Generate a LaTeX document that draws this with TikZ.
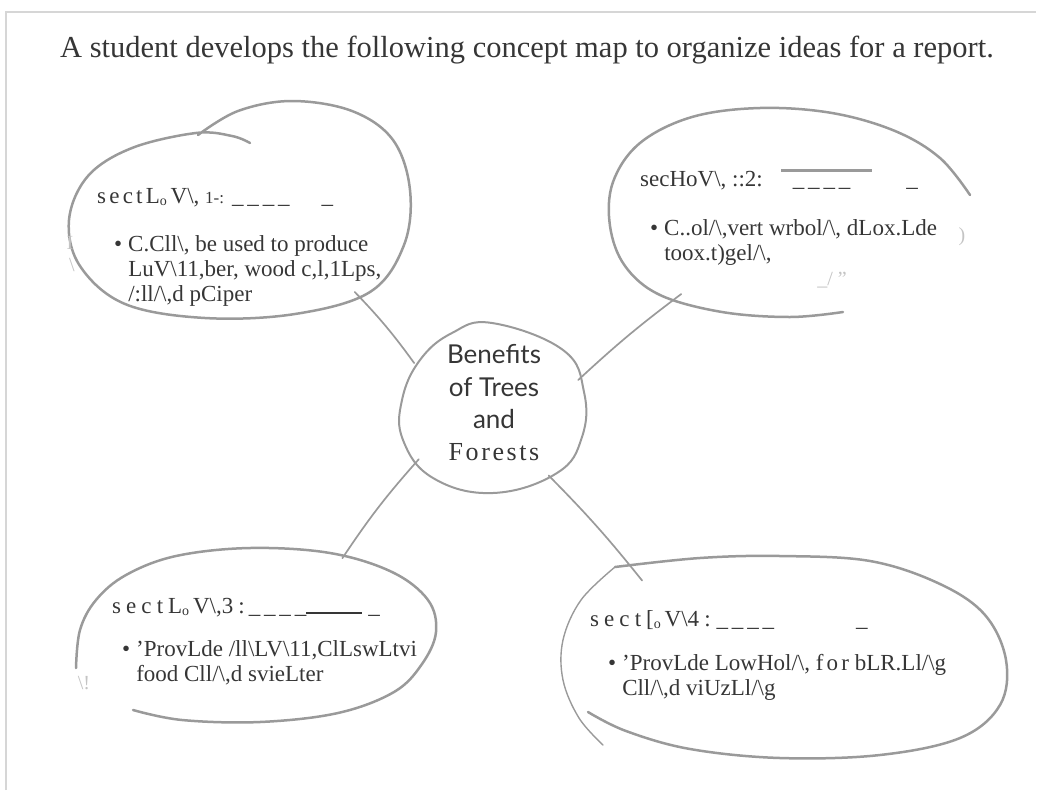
\documentclass[tikz,border=0pt]{standalone}
\usepackage{fontspec}
\setmainfont{Liberation Serif}
\newfontfamily\handfont{Lato}
\usepackage{tikz}
\usetikzlibrary{shapes.geometric, positioning}
\definecolor{ink}{HTML}{363636}
\definecolor{pencil}{HTML}{9A9A9A}
\definecolor{frameline}{HTML}{D6D6D6}
\definecolor{smudge}{HTML}{C4C4C4}
\newcommand{\bs}{\textbackslash}
\newcommand{\spaced}[2][14]{{\addfontfeature{LetterSpace=#1}#2}}
\newcommand{\tinyo}{\raisebox{-2pt}{\fontsize{14}{14}\selectfont o}}
\newcommand{\smallnum}[1]{{\fontsize{17}{17}\selectfont #1}}

\begin{document}
\begin{tikzpicture}[
    x=1pt, y=1pt,
    pen/.style={draw=pencil, line width=2.5pt, line cap=round},
    link/.style={draw=pencil, line width=1.7pt, line cap=round},
    bubble/.style={ellipse, inner sep=0pt},
    headtext/.style={anchor=base west, inner sep=0pt, text=ink, font=\fontsize{23}{26}\selectfont},
    bodytext/.style={anchor=base west, inner sep=0pt, text=ink, font=\fontsize{23}{25}\selectfont},
    marktext/.style={inner sep=0pt, text=smudge, font=\fontsize{20}{22}\selectfont},
]
    \useasboundingbox (0,0) rectangle (1041,-790);

    % Frame
    \draw[frameline, line width=1.4pt] (6,-790) -- (6,-12) -- (1036,-12);

    % Question
    \node[anchor=base, inner sep=0pt, text=ink, font=\fontsize{30.5}{32}\selectfont] (title) at (527,-57)
        {A student develops the following concept map to organize ideas for a report.};

    % Bubbles
    \node[bubble, minimum width=340pt, minimum height=186pt] (sec1) at (240,-223) {};
    \node[bubble, minimum width=374pt, minimum height=206pt] (sec2) at (797,-213) {};
    \node[bubble, minimum width=366pt, minimum height=176pt] (sec3) at (256,-636) {};
    \node[bubble, minimum width=446pt, minimum height=194pt] (sec4) at (780,-657) {};
    \node[bubble, minimum width=182pt, minimum height=172pt] (topic) at (492,-408) {};

    % Outlines
    \draw[pen] plot[smooth, tension=0.6] coordinates {(198,-135) (238,-111) (292,-101) (352,-111) (393,-140) (410,-190) (404,-245) (370,-292) (295,-314) (205,-318) (125,-304) (80,-266) (69,-220) (88,-176) (132,-148) (196,-133) (232,-136) (250,-143)};
    \draw[pen] plot[smooth, tension=0.6] coordinates {(970,-195) (940,-158) (895,-131) (832,-113) (760,-108) (692,-117) (640,-143) (613,-182) (610,-226) (625,-266) (660,-295) (722,-312) (790,-317) (843,-312)};
    \draw[pen] plot[smooth, tension=0.6] coordinates {(76,-668) (80,-630) (96,-600) (126,-575) (176,-556) (250,-548) (330,-553) (392,-572) (428,-600) (436,-632) (422,-664) (394,-692) (338,-713) (260,-722) (182,-720) (133,-710)};
    \draw[pen] plot[smooth, tension=0.6] coordinates {(615,-567) (700,-558) (780,-556) (870,-561) (940,-584) (985,-615) (1006,-660) (1000,-705) (960,-738) (880,-755) (780,-758) (690,-749) (626,-731) (588,-712)};
    \draw[pen, line width=1.4pt] plot[smooth, tension=0.6] coordinates {(615,-567) (581,-600) (563,-640) (563,-680) (579,-718) (603,-745)};
    \draw[pen, line width=2pt] plot[smooth cycle, tension=0.7] coordinates {(492,-323) (563,-350) (584,-392) (582,-437) (557,-473) (493,-493) (433,-478) (403,-440) (402,-400) (420,-360) (452,-333)};

    % Connectors
    \draw[link] (sec1.-31) to[bend left=4] (topic.150);
    \draw[link] (sec2.215) to[bend right=3] (topic.18);
    \draw[link] (topic.215) to[bend right=4] (sec3.42);
    \draw[link] (topic.-50) to[bend left=3] (sec4.151);

    % Topic
    \node[anchor=base, inner sep=0pt, text=ink, font=\handfont\fontsize{26}{28}\selectfont] (benefits) at (494,-363) {Benefits};
    \node[anchor=base, inner sep=0pt, text=ink, font=\handfont\fontsize{26}{28}\selectfont] (trees) at (494,-396) {of Trees};
    \node[anchor=base, inner sep=0pt, text=ink, font=\handfont\fontsize{26}{28}\selectfont] (and) at (494,-428) {and};
    \node[anchor=base, inner sep=0pt, text=ink, font=\fontsize{26}{28}\selectfont] (forests) at (494,-460) {\spaced[10]{Forests}};

    % Section 1
    \node[headtext] (head1) at (97,-203) {\spaced{sectL}\tinyo\,V\bs, \smallnum{1-:}\hspace{8pt}\_\,\_\,\_\,\_\hspace{32pt}\_};
    \node[bodytext] (body1) at (114,-251) {\begin{tabular}[t]{@{}l@{\hspace{6pt}}l@{}}
        \textbullet & C.Cll\bs, be used to produce\\
                    & LuV\bs 11,ber, wood c,l,1Lps,\\
                    & /:ll/\bs,d pCiper
    \end{tabular}};
    \node[marktext] (mark1a) at (70,-243) {I};
    \node[marktext] (mark1b) at (72,-265) {\bs};

    % Section 2
    \node[headtext] (head2) at (640,-186) {secHoV\bs, ::2:\hspace{30pt}\_\,\_\,\_\,\_\hspace{56pt}\_};
    \draw[pencil, line width=3pt] (781,-170) -- (872,-170);
    \node[bodytext] (body2) at (650,-235) {\begin{tabular}[t]{@{}l@{\hspace{6pt}}l@{}}
        \textbullet & C..ol/\bs,vert wrbol/\bs, dLox.Lde\\
                    & toox.t)gel/\bs,
    \end{tabular}};
    \node[marktext] (mark2a) at (962,-237) {)};
    \node[marktext] (mark2b) at (832,-280) {\_/ "};

    % Section 3
    \node[headtext] (head3) at (112,-613) {\spaced[22]{sectL}\tinyo\,V\bs,\spaced[22]{3:}\hspace{4pt}\_\,\_\,\_\,\_\rule[-1pt]{56pt}{1.6pt}\hspace{6pt}\_};
    \node[bodytext] (body3) at (122,-656) {\begin{tabular}[t]{@{}l@{\hspace{6pt}}l@{}}
        \textbullet & 'ProvLde /ll\bs LV\bs 11,ClLswLtvi\\
                    & food Cll/\bs,d svieLter
    \end{tabular}};
    \node[marktext] (mark3) at (84,-683) {\bs!};

    % Section 4
    \node[headtext] (head4) at (590,-626) {\spaced[22]{sect[}\tinyo\,V\bs\spaced[22]{4:}\hspace{6pt}\_\,\_\,\_\,\_\hspace{82pt}\_};
    \node[bodytext] (body4) at (608,-670) {\begin{tabular}[t]{@{}l@{\hspace{6pt}}l@{}}
        \textbullet & 'ProvLde LowHol/\bs, \spaced{for} bLR.Ll/\bs g\\
                    & Cll/\bs,d viUzLl/\bs g
    \end{tabular}};
\end{tikzpicture}
\end{document}
